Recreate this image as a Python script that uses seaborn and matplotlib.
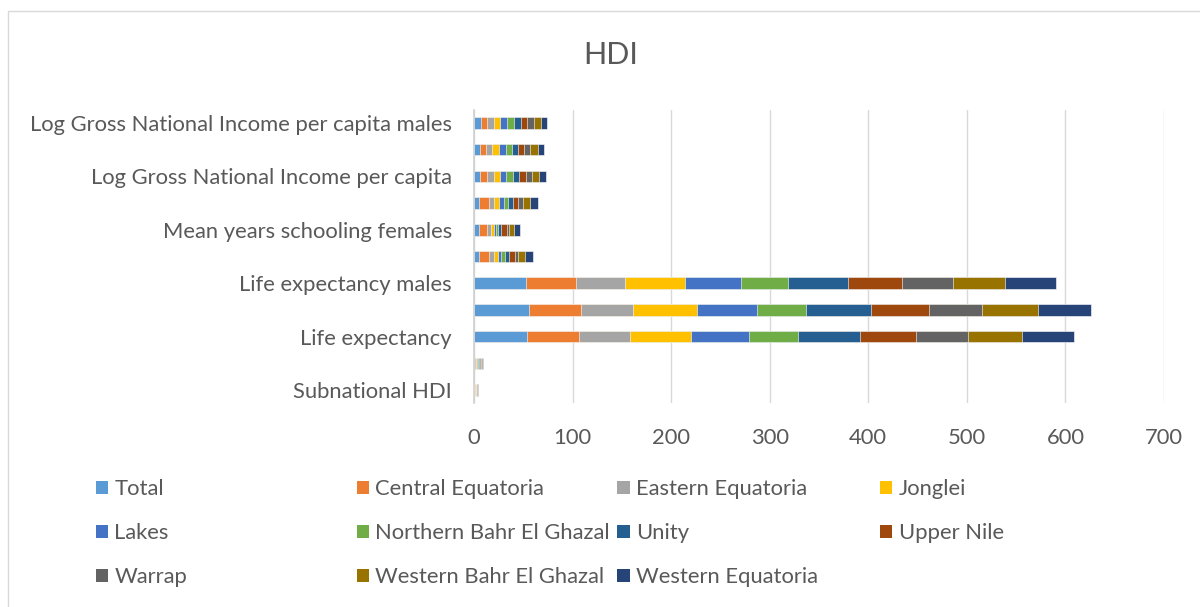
#!/usr/bin/env python3
import numpy as np
import pandas as pd
import matplotlib
matplotlib.use("Agg")
import matplotlib.pyplot as plt
from matplotlib.patches import Patch, Rectangle
import seaborn as sns

# indicators, listed top to bottom as in the chart
indicators = [
    "Log Gross National Income per capita males",
    "Log Gross National Income per capita females",
    "Log Gross National Income per capita",
    "Mean years schooling males",
    "Mean years schooling females",
    "Mean years schooling",
    "Life expectancy males",
    "Life expectancy females",
    "Life expectancy",
    "Subnational GDI",
    "Subnational HDI",
]
# Excel only printed every other category label
shown = [True, False, True, False, True, False, True, False, True, False, True]

regions = ["Total", "Central Equatoria", "Eastern Equatoria", "Jonglei",
           "Lakes", "Northern Bahr El Ghazal", "Unity", "Upper Nile",
           "Warrap", "Western Bahr El Ghazal", "Western Equatoria"]

total = [6.6, 6.3, 6.3, 5.5, 4.6, 5.3, 53.0, 55.8, 54.1, 0.84, 0.41]
central_equatoria = [6.4, 6.1, 6.8, 9.4, 8.4, 9.7, 50.4, 53.0, 52.4, 0.86, 0.48]
eastern_equatoria = [6.8, 6.1, 6.8, 5.8, 4.5, 4.8, 50.0, 52.8, 52.0, 0.82, 0.38]
jonglei = [6.8, 6.7, 6.1, 5.1, 2.6, 4.3, 60.2, 64.6, 61.6, 0.80, 0.37]
lakes = [7.1, 6.8, 6.8, 4.3, 2.4, 3.5, 56.8, 60.8, 58.5, 0.82, 0.40]
northern_bahr_el_ghazal = [6.8, 6.3, 6.8, 4.5, 2.0, 4.0, 48.0, 49.7, 50.0, 0.80, 0.36]
unity = [6.8, 6.8, 6.1, 4.7, 2.7, 3.7, 61.1, 66.3, 62.9, 0.81, 0.39]
upper_nile = [6.8, 6.1, 6.8, 5.7, 6.5, 5.8, 54.8, 58.5, 56.5, 0.85, 0.43]
warrap = [6.8, 6.1, 6.8, 4.4, 1.3, 4.0, 51.7, 54.0, 53.0, 0.78, 0.36]
western_bahr_el_ghazal = [6.8, 7.4, 6.8, 7.5, 5.4, 6.8, 53.2, 56.2, 54.5, 0.86, 0.44]
western_equatoria = [6.8, 6.8, 6.8, 7.7, 6.5, 7.7, 51.3, 54.4, 53.3, 0.88, 0.45]

colors = ["#5B9BD5", "#ED7D31", "#A5A5A5", "#FFC000", "#4472C4", "#70AD47",
          "#255E91", "#9E480E", "#636363", "#997300", "#264478"]

df = pd.DataFrame({
    "Total": total,
    "Central Equatoria": central_equatoria,
    "Eastern Equatoria": eastern_equatoria,
    "Jonglei": jonglei,
    "Lakes": lakes,
    "Northern Bahr El Ghazal": northern_bahr_el_ghazal,
    "Unity": unity,
    "Upper Nile": upper_nile,
    "Warrap": warrap,
    "Western Bahr El Ghazal": western_bahr_el_ghazal,
    "Western Equatoria": western_equatoria,
}, index=indicators)
cum = df[regions].cumsum(axis=1)

sns.set_theme(style="white")
plt.rcParams["font.family"] = ["Lato", "DejaVu Sans"]
text_col = "#595959"
fs = 15.8

fig = plt.figure(figsize=(12, 6.07), dpi=100)
ax = fig.add_axes([0.395, 0.3354, 0.575, 0.484])

# stacked bars: draw cumulative totals from the last region back to the first
for i in range(len(regions) - 1, -1, -1):
    sns.barplot(x=cum[regions[i]].values, y=indicators, order=indicators,
                orient="h", color=colors[i], width=0.43, ax=ax,
                edgecolor="white", linewidth=0.4, saturation=1)

ax.set_xlim(0, 700)
ax.set_ylim(10.5, -0.5)
ax.set_xticks(range(0, 701, 100))
ax.set_yticks(range(len(indicators)))
ax.set_yticklabels([lab if s else "" for lab, s in zip(indicators, shown)])
ax.set_xlabel("")
ax.set_ylabel("")
ax.xaxis.grid(True, color="#d9d9d9", linewidth=1)
ax.set_axisbelow(True)
for side in ["top", "right", "bottom"]:
    ax.spines[side].set_visible(False)
ax.spines["left"].set_color("#d0d0d0")
ax.spines["left"].set_linewidth(1.2)
ax.tick_params(axis="both", length=0, labelsize=fs, labelcolor=text_col)
ax.tick_params(axis="y", pad=16)
ax.tick_params(axis="x", pad=18)

fig.text(0.509, 1 - 55 / 607, "HDI", ha="center", va="center",
         fontsize=22, color=text_col)

# chart frame like the Excel chart area
fig.add_artist(Rectangle((8 / 1200, -0.1), 1.2, 1 - 11 / 607 + 0.1,
                         transform=fig.transFigure, fill=False,
                         edgecolor="#d9d9d9", linewidth=1))

# legend in 4 equal columns
col_x = [95.6, 356.5, 617.5, 880]
for c in range(4):
    idx = list(range(c, len(regions), 4))
    handles = [Patch(facecolor=colors[k], edgecolor="none") for k in idx]
    labels = [regions[k] for k in idx]
    fig.legend(handles, labels, loc="upper left",
               bbox_to_anchor=(col_x[c] / 1200, 1 - 479 / 607),
               frameon=False, fontsize=fs, labelcolor=text_col,
               handlelength=0.55, handleheight=0.55, handletextpad=0.3,
               labelspacing=1.1, borderpad=0, borderaxespad=0)

fig.savefig("out.png", dpi=100)
